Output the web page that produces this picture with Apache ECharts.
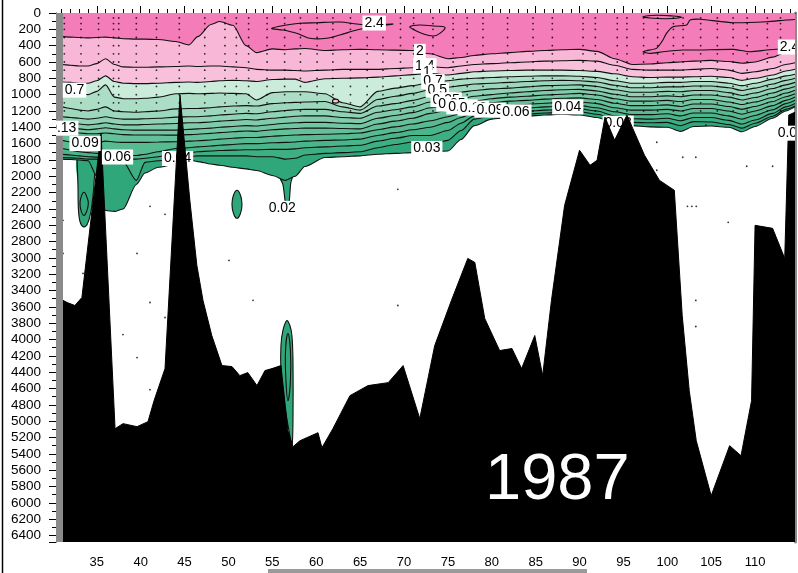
<!DOCTYPE html>
<html>
<head>
<meta charset="utf-8">
<script src="https://cdn.jsdelivr.net/npm/echarts@6/dist/echarts.min.js"></script>
<style>
  html, body { margin: 0; padding: 0; background: #fff; }
  #chart { width: 798px; height: 573px; }
</style>
</head>
<body>
<div id="chart"></div>
<script>
// ---- Section grid: latitude of each column of the contour table ----
const lat = [30.35, 31, 32, 33, 34, 35, 36, 37, 38, 39.5, 40.5, 42, 44, 45.5, 46.5, 48, 49, 50.5, 52, 53.2,
  55, 56.5, 57.6, 58.7, 61, 63, 65, 67, 69, 71, 73, 75, 76.5, 78, 80, 82, 84, 86, 88, 90,
  92, 94, 96, 98, 100, 101.5, 103, 105, 107, 108.5, 110, 112, 113.5, 114.55];

// ---- Depth (m) of each isoline along the section ----
const iso20 = [285, 290, 295, 300, 305, 300, 295, 305, 315, 320, 320, 325, 350, 390, 290, 140, 105, 150, 400, 485,
  440, 450, 440, 435, 460, 450, 445, 450, 455, 460, 500, 560, 545, 520, 500, 485, 470, 460, 450, 445,
  470, 560, 630, 625, 610, 600, 590, 580, 595, 615, 600, 540, 480, 460];
const iso14 = [630, 630, 640, 650, 650, 620, 560, 630, 660, 665, 665, 660, 655, 650, 655, 650, 650, 660, 670, 690,
  700, 700, 705, 710, 700, 690, 690, 690, 680, 670, 660, 670, 650, 630, 620, 610, 600, 590, 585, 580,
  590, 640, 690, 700, 700, 700, 690, 680, 700, 740, 720, 680, 630, 610];
const iso10 = [840, 845, 850, 860, 860, 830, 770, 840, 860, 865, 865, 860, 850, 845, 850, 840, 830, 825, 830, 840,
  815, 810, 810, 850, 805, 800, 795, 785, 770, 755, 740, 760, 740, 720, 710, 705, 700, 700, 700, 705,
  715, 745, 780, 790, 785, 785, 780, 775, 790, 825, 800, 760, 710, 690];
const iso07 = [950, 960, 970, 990, 1000, 960, 880, 1030, 1050, 1050, 1045, 1030, 990, 985, 990, 985, 980, 985, 990, 1065,
  975, 965, 965, 965, 990, 1100, 1150, 960, 920, 890, 850, 830, 810, 800, 790, 780, 775, 770, 770, 775,
  790, 830, 860, 860, 850, 850, 840, 840, 860, 890, 860, 810, 770, 750];
const iso05 = [1140, 1150, 1170, 1190, 1200, 1180, 1150, 1200, 1210, 1215, 1210, 1200, 1175, 1170, 1170, 1160, 1150, 1140, 1135, 1140,
  1110, 1100, 1095, 1090, 1085, 1150, 1190, 1060, 1020, 985, 940, 910, 890, 870, 860, 850, 840, 830, 825, 830,
  845, 885, 915, 915, 905, 905, 895, 895, 915, 950, 920, 870, 825, 800];
const iso035 = [1260, 1270, 1280, 1290, 1300, 1290, 1270, 1290, 1300, 1300, 1295, 1290, 1275, 1270, 1270, 1260, 1250, 1240, 1230, 1235,
  1210, 1195, 1185, 1180, 1180, 1210, 1230, 1140, 1110, 1070, 1020, 1000, 970, 950, 930, 920, 905, 890, 885, 880,
  900, 940, 970, 970, 960, 965, 950, 950, 975, 1010, 980, 925, 880, 850];
const iso025 = [1340, 1350, 1355, 1360, 1370, 1360, 1345, 1360, 1370, 1370, 1365, 1360, 1353, 1345, 1345, 1335, 1325, 1315, 1305, 1310,
  1290, 1275, 1265, 1260, 1260, 1280, 1290, 1215, 1185, 1150, 1090, 1080, 1050, 1020, 1000, 980, 965, 950, 940, 935,
  955, 995, 1025, 1025, 1015, 1025, 1005, 1005, 1030, 1065, 1035, 980, 930, 900];
const iso018 = [1390, 1400, 1410, 1420, 1430, 1420, 1405, 1420, 1430, 1435, 1435, 1435, 1435, 1425, 1420, 1410, 1400, 1390, 1380, 1385,
  1365, 1350, 1345, 1340, 1340, 1350, 1355, 1290, 1255, 1220, 1160, 1140, 1120, 1080, 1050, 1030, 1020, 1005, 995, 985,
  1005, 1050, 1080, 1080, 1070, 1085, 1060, 1060, 1090, 1120, 1090, 1035, 980, 945];
const iso013 = [1420, 1430, 1450, 1470, 1480, 1480, 1470, 1480, 1490, 1495, 1495, 1495, 1496, 1490, 1485, 1475, 1465, 1455, 1445, 1450,
  1430, 1420, 1415, 1410, 1410, 1415, 1420, 1360, 1325, 1290, 1230, 1190, 1160, 1130, 1100, 1080, 1070, 1055, 1045, 1040,
  1060, 1105, 1135, 1135, 1125, 1145, 1115, 1115, 1145, 1180, 1145, 1085, 1025, 990];
const iso009 = [1540, 1560, 1580, 1600, 1600, 1590, 1570, 1580, 1585, 1585, 1585, 1580, 1578, 1570, 1565, 1555, 1545, 1535, 1525, 1525,
  1510, 1500, 1495, 1490, 1485, 1480, 1470, 1430, 1395, 1360, 1320, 1270, 1230, 1185, 1150, 1130, 1120, 1105, 1095, 1090,
  1110, 1160, 1190, 1190, 1180, 1200, 1170, 1170, 1200, 1240, 1200, 1135, 1070, 1030];
const iso006 = [1640, 1660, 1680, 1700, 1710, 1720, 1730, 1740, 1745, 1745, 1730, 1700, 1660, 1650, 1640, 1630, 1620, 1610, 1600, 1600,
  1590, 1585, 1580, 1570, 1560, 1555, 1545, 1500, 1465, 1430, 1400, 1340, 1280, 1220, 1190, 1180, 1165, 1150, 1140, 1135,
  1160, 1210, 1245, 1245, 1235, 1260, 1225, 1225, 1260, 1300, 1255, 1185, 1110, 1070];
const iso004 = [1710, 1730, 1740, 1750, 1760, 1765, 1770, 1780, 1785, 1790, 1780, 1760, 1720, 1710, 1700, 1690, 1685, 1680, 1675, 1675,
  1670, 1670, 1665, 1650, 1640, 1630, 1620, 1570, 1535, 1500, 1500, 1440, 1350, 1260, 1230, 1220, 1205, 1190, 1180, 1175,
  1200, 1260, 1295, 1300, 1290, 1320, 1280, 1280, 1315, 1360, 1310, 1230, 1150, 1110];
const iso003 = [1760, 1770, 1775, 1780, 1790, 1790, 1800, 1810, 1820, 2050, 1830, 1810, 1780, 1760, 1750, 1750, 1750, 1750, 1750, 1760,
  1760, 1790, 1780, 1740, 1720, 1710, 1700, 1650, 1610, 1580, 1620, 1560, 1440, 1300, 1260, 1250, 1240, 1225, 1215, 1210,
  1240, 1300, 1340, 1345, 1340, 1380, 1330, 1335, 1365, 1410, 1350, 1265, 1180, 1140];
const iso002 = [1800, 1790, 1795, 1800, 1810, 2000, 2420, 2430, 2400, 2100, 1960, 1890, 1850, 1800, 1820, 1850, 1865, 1890, 1910, 1930,
  1990, 2050, 2000, 1880, 1770, 1760, 1750, 1730, 1720, 1710, 1700, 1690, 1550, 1380, 1300, 1280, 1265, 1250, 1240, 1250,
  1280, 1350, 1380, 1395, 1400, 1450, 1390, 1385, 1400, 1455, 1390, 1290, 1200, 1150];

// ---- Detached features: tongues, patches and closed isolines ----
const westTongueLat = [32.75, 32.85, 32.9, 33.1, 33.5, 33.9, 34.3, 34.6, 34.8, 34.9];
const westTongueDepth = [1790, 2100, 2400, 2560, 2620, 2590, 2450, 2200, 1900, 1790];
const westTongueCoreLat = [33.54, 33.88, 34.03, 33.88, 33.54, 33.2, 33.09, 33.2];
const westTongueCoreDepth = [2196, 2258, 2331, 2417, 2479, 2417, 2331, 2258];
const midTongueLat = [55.9, 56.2, 56.45, 56.62, 56.8, 56.95, 57.1, 57.3];
const midTongueDepth = [2030, 2100, 2300, 2410, 2400, 2280, 2080, 2010];
const patch51Lat = [50.97, 51.37, 51.54, 51.37, 50.97, 50.57, 50.4, 50.57];
const patch51Depth = [2172, 2233, 2344, 2454, 2515, 2454, 2344, 2233];
const deepPatchLat = [56.66, 56.2, 55.98, 55.98, 56.3, 56.9, 57.23, 57.35, 57.35, 57.23, 57.0];
const deepPatchDepth = [3767, 3890, 4074, 4380, 4749, 5117, 5313, 4994, 4258, 3951, 3828];
const deepPatchCoreLat = [56.78, 56.5, 56.55, 56.78, 57.06, 57.06];
const deepPatchCoreDepth = [3926, 4135, 4503, 4749, 4503, 4135];
const pinkCellLat = [61.85, 62.2, 62.55, 62.2];
const pinkCellDepth = [1080, 1055, 1080, 1104];
const core24aLat = [54.92, 56.63, 58.14, 60.05, 62.7, 64.6, 65.74, 68.74, 66.7, 64.6, 62.7, 61.18, 59.28, 57.77, 56.2];
const core24aDepth = [188, 147, 126, 119, 110, 135, 147, 135, 166, 209, 270, 310, 310, 249, 209];
const core24bLat = [70.67, 71.81, 73.33, 74.66, 74.09, 73.33, 72.0, 71.05];
const core24bDepth = [168, 147, 160, 175, 249, 282, 249, 200];
const core24cLat = [97.24, 98.77, 100.66, 101.6, 99.9, 98.0];
const core24cDepth = [45, 28, 37, 53, 70, 61];
const core24dLat = [114.55, 113.57, 111.3, 107.5, 103.75, 102.6, 102.2, 100.66, 99.9, 99.5, 98.77, 97.63, 97.24, 98.0, 99.5,
  101.8, 103.75, 107.5, 109.4, 111.3, 113.57, 114.55];
const core24dDepth = [80, 86, 107, 119, 77, 86, 147, 168, 249, 331, 433, 462, 475, 495, 475,
  454, 454, 446, 475, 454, 433, 420];

// ---- Sea floor ----
const bathyLat = [30.35, 31.15, 31.6, 32.5, 33.3, 35.48, 37.08, 37.99, 39.58, 40.83, 41.52, 42.77, 44.48, 45.6, 46.4, 47.1, 48.1,
  49.26, 50.4, 51.3, 52.2, 53.25, 54.16, 54.96, 55.98, 56.78, 57.35, 58.15, 60.2, 60.65, 61.9, 63.84, 65.9, 68.2, 69.9,
  71.8, 73.5, 75.4, 77.27, 78.07, 79.2, 80.9, 82.3, 83.4, 84.9, 85.8, 86.8, 88.3, 90.0, 91.2, 92.0, 92.9, 94.0, 95.4,
  97.4, 99.1, 100.8, 101.7, 102.5, 103.3, 105.0, 107.1, 108.4, 109.6, 110.0, 112.0, 113.38, 113.84, 114.55];
const bathyDepth = [3400, 3520, 3546, 3583, 3485, 1472, 5092, 5030, 5067, 5006, 4749, 4356, 1006, 2295, 3092, 3521, 3951,
  4319, 4331, 4442, 4405, 4564, 4380, 4356, 4319, 5117, 5313, 5239, 5141, 5325, 5092, 4687, 4564, 4528, 4319,
  4969, 4074, 3522, 3006, 3055, 3742, 4135, 4110, 4356, 3951, 4442, 3522, 2356, 1681, 1865, 1804, 1276, 1558, 1251,
  1742, 2049, 2172, 3706, 4626, 5239, 5914, 5300, 5423, 4749, 2601, 2638, 3006, 1250, 1215];

// ---- Sample positions ----
const stationLat = [31.3, 33.2, 35.2, 36.9, 37.5, 39.5, 41.8, 44.4, 47.3, 49.6, 50.9, 52.3, 54.4, 56.4, 58.2, 60.1, 61.9,
  63.9, 65.8, 67.6, 69.6, 71.1, 73.3, 75.6, 77.2, 79.0, 81.8, 84.7, 86.9, 90.4, 91.8, 94.3, 95.4, 97.3, 98.9, 100.7,
  101.8, 103.8, 105.7, 107.5, 109.1, 111.4, 112.9];
const sampleDepth = [60, 130, 200, 300, 400, 500, 600, 700, 800, 900, 1000, 1100, 1200];
const deepDotLat = [31.15, 31.15, 33.43, 37.98, 39.58, 39.58, 41.06, 41.06, 41.06, 42.77, 42.77, 50.06, 52.8, 69.3, 69.3,
  98.8, 98.8, 101.76, 103.25, 102.3, 102.8, 103.3, 103.25, 103.25, 104.4, 106.94, 109.05, 112.0];
const deepDotDepth = [2540, 2945, 3190, 3939, 2945, 4221, 2368, 3546, 4614, 2466, 3730, 3031, 3520, 2160, 3583,
  1583, 1926, 1767, 1767, 2368, 2368, 2368, 3521, 3840, 1374, 2564, 1877, 1877];

// ---- Isoline labels ----
const labelText = ['2.4', '2', '1.4', '1', '0.7', '0.5', '0.35', '0.25', '0.18', '0.13', '0.09', '0.06', '0.04', '0.03',
  '0.02', '0.7', '0.13', '0.09', '0.06', '0.02', '2.4'];
const labelLat = [66.6, 71.8, 72.37, 72.6, 73.3, 73.8, 74.8, 75.46, 76.6, 77.9, 79.8, 82.75, 88.66, 72.6,
  56.13, 32.46, 31.12, 33.66, 37.36, 114.13, 113.93];
const labelDepth = [123, 470, 645, 725, 840, 945, 1062, 1117, 1150, 1166, 1190, 1211, 1150, 1660,
  2393, 945, 1411, 1599, 1763, 1472, 417];
const shadedLabelText = ['0.04', '0.03'];
const shadedLabelLat = [44.2, 94.4];
const shadedLabelDepth = [1783, 1350];

// ---- Axis ticks ----
const majorLat = [35, 40, 45, 50, 55, 60, 65, 70, 75, 80, 85, 90, 95, 100, 105, 110];
const noDataLat = [30.35, 31.15];
const LAT_MIN = 30.35, LAT_MAX = 114.55, DEPTH_MAX = 6480;

const minorLat = [];
for (let v = 31; v <= 114; v++) minorLat.push(v);

const FONT = '"Liberation Sans", Arial, Helvetica, sans-serif';
const LINE = '#101010';

// Isolines drawn deepest first, each filled upward to the surface.
const isoLines = [iso002, iso003, iso004, iso006, iso009, iso013, iso018, iso025, iso035, iso05, iso07, iso10, iso14, iso20];
const bandFill = ['#30a77b', '#3eae83', '#4ab48a', '#57ba91', '#64c099', '#72c6a1', '#80ccaa', '#8fd2b4',
  '#9dd8bd', '#acdec6', '#cbebdb', '#f9c0dc', '#f8b7d6', '#f47cb8'];

const pairs = (xs, ys) => xs.map((x, i) => [x, ys[i]]);

function shapeSeries(xs, ys, opts) {
  return {
    type: 'custom', z: opts.z, silent: true, clip: true,
    data: pairs(xs, ys),
    renderItem(params, api) {
      if (params.dataIndex !== 0) return null;
      const pts = xs.map((_, i) => api.coord([api.value(0, i), api.value(1, i)]));
      const kids = [];
      if (opts.fill) {
        kids.push({ type: 'polygon', shape: { points: pts, smooth: opts.smooth || 0 },
          style: { fill: opts.fill, stroke: null } });
      }
      if (opts.stroke) {
        kids.push({ type: opts.closed ? 'polygon' : 'polyline', shape: { points: pts, smooth: opts.smooth || 0 },
          style: { fill: null, stroke: opts.stroke, lineWidth: 1.1 } });
      }
      return { type: 'group', children: kids };
    }
  };
}

function labelSeries(texts, xs, ys, z) {
  return {
    type: 'custom', z, silent: true, clip: true,
    data: pairs(xs, ys),
    renderItem(params, api) {
      const p = api.coord([api.value(0), api.value(1)]);
      return {
        type: 'text', x: p[0], y: p[1],
        style: { text: texts[params.dataIndex], fill: '#000', font: '14px ' + FONT,
          align: 'center', verticalAlign: 'middle', backgroundColor: '#fff', padding: [1, 2, 0, 2] }
      };
    }
  };
}

const series = [];

// tongues sit beneath the band fills so only their lower parts show
series.push(shapeSeries(westTongueLat, westTongueDepth, { z: 1, fill: bandFill[0], stroke: LINE, closed: false, smooth: 0.3 }));
series.push(shapeSeries(midTongueLat, midTongueDepth, { z: 1, fill: bandFill[0], stroke: LINE, closed: false, smooth: 0.3 }));

isoLines.forEach((arr, k) => {
  series.push({
    type: 'line', z: 2, silent: true, symbol: 'none', clip: true,
    smooth: 0.25, smoothMonotone: 'x',
    data: pairs(lat, arr),
    lineStyle: { color: LINE, width: 1.1 },
    areaStyle: { color: bandFill[k], opacity: 1, origin: 'start' }
  });
});

series.push(shapeSeries(patch51Lat, patch51Depth, { z: 3, fill: bandFill[0], stroke: LINE, closed: true, smooth: 0.5 }));
series.push(shapeSeries(deepPatchLat, deepPatchDepth, { z: 3, fill: bandFill[0], stroke: LINE, closed: true, smooth: 0.3 }));
series.push(shapeSeries(deepPatchCoreLat, deepPatchCoreDepth, { z: 3, stroke: LINE, closed: true, smooth: 0.4 }));
series.push(shapeSeries(westTongueCoreLat, westTongueCoreDepth, { z: 3, stroke: LINE, closed: true, smooth: 0.5 }));
series.push(shapeSeries(pinkCellLat, pinkCellDepth, { z: 3, fill: bandFill[11], stroke: LINE, closed: true, smooth: 0.6 }));
series.push(shapeSeries(core24aLat, core24aDepth, { z: 3, stroke: LINE, closed: true, smooth: 0.3 }));
series.push(shapeSeries(core24bLat, core24bDepth, { z: 3, stroke: LINE, closed: true, smooth: 0.4 }));
series.push(shapeSeries(core24cLat, core24cDepth, { z: 3, stroke: LINE, closed: true, smooth: 0.4 }));
series.push(shapeSeries(core24dLat, core24dDepth, { z: 3, stroke: LINE, closed: false, smooth: 0.2 }));

// sample dots: each cast at the standard levels, plus the sparse deep bottles
const castDots = [];
stationLat.forEach(s => sampleDepth.forEach(d => castDots.push([s, d])));
series.push({
  type: 'scatter', z: 3, silent: true, symbol: 'circle', symbolSize: 1.8,
  itemStyle: { color: '#000' }, data: castDots
});
series.push({
  type: 'scatter', z: 3, silent: true, symbol: 'circle', symbolSize: 1.8,
  itemStyle: { color: '#000' }, data: pairs(deepDotLat, deepDotDepth)
});

series.push(labelSeries(shadedLabelText, shadedLabelLat, shadedLabelDepth, 3));

// sea floor
series.push({
  type: 'line', z: 4, silent: true, symbol: 'none', clip: true,
  data: pairs(bathyLat, bathyDepth),
  lineStyle: { color: '#000', width: 1 },
  areaStyle: { color: '#000', opacity: 1, origin: 'end' }
});

// no-data strip at the southern end
series.push({
  type: 'custom', z: 5, silent: true, clip: true,
  data: [[noDataLat[0], 0]],
  renderItem(params, api) {
    const a = api.coord([noDataLat[0], 0]);
    const b = api.coord([noDataLat[1], DEPTH_MAX]);
    return { type: 'rect', shape: { x: a[0], y: a[1], width: b[0] - a[0], height: b[1] - a[1] },
      style: { fill: '#8a8a8a' } };
  }
});

series.push(labelSeries(labelText, labelLat, labelDepth, 6));

const xBase = { type: 'value', min: LAT_MIN, max: LAT_MAX, splitLine: { show: false } };

const option = {
  animation: false,
  backgroundColor: '#fff',
  grid: { left: 56, right: 3, top: 13, bottom: 31 },
  xAxis: [
    Object.assign({}, xBase, {
      position: 'bottom',
      axisLine: { show: true, lineStyle: { color: '#000', width: 1 } },
      axisTick: { show: true, customValues: majorLat, length: 7, lineStyle: { color: '#000' } },
      axisLabel: { show: true, customValues: majorLat, color: '#000', fontSize: 13, fontFamily: FONT, margin: 14 }
    }),
    Object.assign({}, xBase, {
      position: 'bottom',
      axisLine: { show: false },
      axisTick: { show: true, customValues: minorLat, length: 4, lineStyle: { color: '#000' } },
      axisLabel: { show: false }
    }),
    Object.assign({}, xBase, {
      position: 'top',
      axisLine: { show: true, lineStyle: { color: '#000', width: 1 } },
      axisTick: { show: true, customValues: majorLat, length: 7, lineStyle: { color: '#000' } },
      axisLabel: { show: false }
    }),
    Object.assign({}, xBase, {
      position: 'top',
      axisLine: { show: false },
      axisTick: { show: true, customValues: minorLat, length: 4, lineStyle: { color: '#000' } },
      axisLabel: { show: false }
    })
  ],
  yAxis: [
    {
      type: 'value', inverse: true, min: 0, max: DEPTH_MAX, interval: 200,
      axisLine: { show: true, lineStyle: { color: '#000', width: 1 } },
      axisTick: { show: true, length: 7, lineStyle: { color: '#000' } },
      minorTick: { show: true, splitNumber: 2, length: 4, lineStyle: { color: '#000' } },
      axisLabel: { color: '#000', fontSize: 13.5, fontFamily: FONT, margin: 15, interval: 0, showMaxLabel: false,
        formatter: v => String(v) },
      splitLine: { show: false }, minorSplitLine: { show: false }
    },
    {
      type: 'value', inverse: true, min: 0, max: DEPTH_MAX, position: 'right',
      axisLine: { show: true, lineStyle: { color: '#8a8a8a', width: 3 } },
      axisTick: { show: false }, axisLabel: { show: false }, splitLine: { show: false }
    }
  ],
  graphic: [
    { type: 'line', silent: true, shape: { x1: 2.5, y1: 0, x2: 2.5, y2: 573 }, style: { stroke: '#000', lineWidth: 1.5 } },
    { type: 'rect', silent: true, shape: { x: 268, y: 569, width: 319, height: 4 }, style: { fill: '#9a9a9a' } },
    { type: 'text', silent: true, z: 100, x: 485, y: 481,
      style: { text: '1987', fill: '#fff', font: '65px ' + FONT, verticalAlign: 'middle', align: 'left' } }
  ],
  series
};

const chart = echarts.init(document.getElementById('chart'), null, { renderer: 'canvas', width: 798, height: 573 });
chart.setOption(option);
</script>
</body>
</html>
